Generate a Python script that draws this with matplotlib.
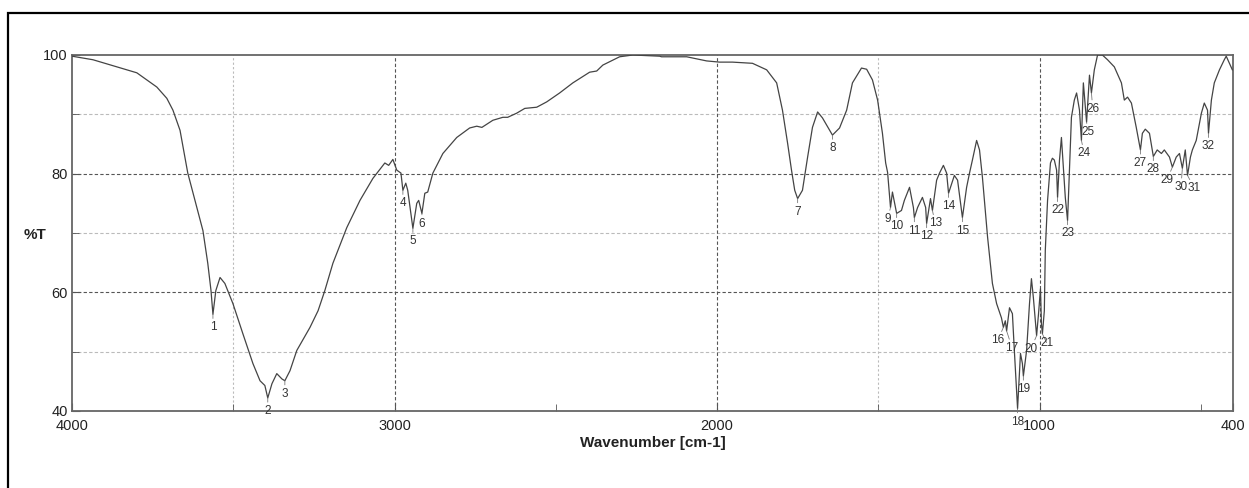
import numpy as np
import matplotlib.pyplot as plt
from matplotlib.patches import Rectangle

plt.rcParams['font.family'] = ['Liberation Sans', 'DejaVu Sans']

# Espectro IR: numero de onda (cm-1) y transmitancia (%T)
wavenumber = [4000, 3935, 3861, 3799, 3737, 3706, 3687, 3665, 3641, 3613, 3594, 3579,
              3569, 3563, 3554, 3541, 3526, 3501, 3470, 3439, 3417, 3402, 3393, 3380,
              3365, 3349, 3340, 3324, 3303, 3262, 3237, 3216, 3191, 3148, 3107, 3067,
              3030, 3018, 3005, 2993, 2980, 2974, 2965, 2959, 2943, 2931, 2925, 2915,
              2906, 2897, 2881, 2850, 2807, 2767, 2745, 2729, 2695, 2664, 2649, 2621,
              2596, 2559, 2528, 2488, 2447, 2395, 2373, 2354, 2302, 2261, 2178, 2172,
              2094, 2032, 1992, 1952, 1890, 1846, 1815, 1797, 1781, 1769, 1759, 1750,
              1735, 1719, 1704, 1688, 1673, 1642, 1620, 1598, 1580, 1552, 1536, 1518,
              1502, 1487, 1477, 1471, 1462, 1456, 1443, 1428, 1419, 1403, 1391, 1388,
              1378, 1363, 1353, 1350, 1338, 1332, 1319, 1310, 1298, 1288, 1282, 1264,
              1254, 1239, 1226, 1217, 1208, 1195, 1186, 1177, 1161, 1146, 1133, 1118,
              1112, 1106, 1102, 1093, 1084, 1078, 1068, 1059, 1053, 1050, 1040, 1031,
              1025, 1019, 1009, 1003, 997, 994, 991, 985, 982, 975, 966, 960, 954, 947,
              944, 938, 932, 926, 920, 913, 907, 901, 892, 885, 876, 870, 864, 858,
              854, 845, 839, 830, 820, 805, 789, 768, 746, 737, 727, 715, 700, 687,
              681, 672, 659, 647, 635, 622, 613, 597, 588, 576, 566, 557, 548, 541,
              532, 526, 514, 498, 489, 479, 476, 467, 458, 442, 427, 421, 411, 402]
transmittance = [99.8, 99.2, 98.0, 97.0, 94.6, 92.7, 90.7, 87.3, 80.1, 74.3, 70.4, 64.9,
                 60.3, 56.3, 60.3, 62.5, 61.5, 58.1, 53.0, 48.0, 45.1, 44.3, 42.2, 44.6,
                 46.3, 45.4, 45.1, 46.8, 50.2, 54.1, 56.9, 60.3, 64.9, 70.9, 75.5, 79.2,
                 81.8, 81.4, 82.4, 80.6, 80.1, 77.2, 78.4, 77.2, 70.8, 75.0, 75.5, 73.3,
                 76.7, 76.9, 80.1, 83.4, 86.1, 87.7, 88.0, 87.8, 89.0, 89.5, 89.5, 90.2,
                 91.0, 91.2, 92.1, 93.6, 95.3, 97.1, 97.3, 98.3, 99.7, 100.0, 99.8, 99.7,
                 99.7, 99.0, 98.8, 98.8, 98.6, 97.5, 95.3, 90.7, 85.1, 80.6, 77.2, 75.8,
                 77.2, 82.8, 87.8, 90.4, 89.4, 86.5, 87.7, 90.7, 95.3, 97.8, 97.6, 95.8,
                 92.4, 86.8, 81.8, 80.2, 74.3, 76.9, 73.3, 73.8, 75.5, 77.7, 74.3, 72.6,
                 74.3, 76.0, 74.3, 71.6, 75.8, 73.8, 78.9, 80.1, 81.4, 80.1, 76.7, 79.7,
                 78.9, 72.6, 77.7, 80.1, 82.3, 85.6, 84.0, 79.4, 69.3, 61.5, 58.1, 55.7,
                 54.1, 55.2, 53.5, 57.4, 56.4, 50.2, 40.4, 49.7, 48.0, 45.9, 50.2, 58.1,
                 62.3, 59.1, 52.7, 56.4, 60.6, 54.7, 53.0, 56.9, 67.1, 75.5, 81.8, 82.6, 82.3, 80.6,
                 76.0, 82.3, 86.1, 81.1, 76.0, 72.1, 80.6, 89.5, 92.4, 93.6, 90.7, 85.6, 95.3, 91.2,
                 88.7, 96.6, 93.6, 97.5, 100.0, 100.0, 99.2, 98.0, 95.3, 92.4, 92.9, 91.9, 87.8, 84.0,
                 86.8, 87.5, 86.8, 82.9, 84.0, 83.4, 84.0, 82.8, 81.1, 82.8, 83.4, 80.9, 84.0, 79.7,
                 82.8, 84.0, 85.6, 90.2, 91.9, 90.7, 86.8, 92.4, 95.3, 97.5, 99.2, 99.8, 98.6, 97.5]

# Picos marcados (numero y posicion en cm-1)
peak_ids = list(range(1, 33))
peak_wn = [3563, 3393, 3340, 2974, 2943, 2915, 1750, 1642, 1462, 1443, 1388, 1350,
           1332, 1282, 1239, 1112, 1102, 1068, 1050, 1009, 991, 944, 913, 870,
           854, 839, 687, 647, 588, 557, 541, 476]

# ajustes de etiquetas (puntos) para que no se monten
nudge = {6: (0, 2), 9: (-2, 1), 13: (2, 0),
         16: (-4, 0), 17: (4, -3),
         20: (-4, 0), 21: (3, 3),
         24: (2, 0), 25: (1, 2), 26: (1, -2),
         29: (-4, 0), 30: (-1, -4), 31: (5, 0)}

wn = np.array(wavenumber)
T = np.array(transmittance)

fig = plt.figure(figsize=(12.49, 4.88), dpi=100)
ax = fig.add_axes([72 / 1249, 1 - 411 / 488, (1233 - 72) / 1249, (411 - 55) / 488])

# marco de la hoja
fig.patches.append(Rectangle((8 / 1249, -0.05), 1.1, 1.05 - 13 / 488,
                             transform=fig.transFigure, fill=False,
                             edgecolor='black', linewidth=1.6))

ax.set_xlim(4000, 400)
ax.set_ylim(40, 100)

# rejilla
for v in [60, 80]:
    ax.axhline(v, color='#555555', lw=0.8, ls=(0, (3, 2)), zorder=1)
for v in [50, 70, 90]:
    ax.axhline(v, color='#bbbbbb', lw=0.8, ls=(0, (3, 2)), zorder=1)
for v in [3000, 2000, 1000]:
    ax.axvline(v, color='#555555', lw=0.8, ls=(0, (3, 2)), zorder=1)
for v in [3500, 1500]:
    ax.axvline(v, color='#bbbbbb', lw=0.8, ls=(0, (2, 2)), zorder=1)

ax.plot(wn, T, color='#444444', lw=0.9, zorder=3)

order = np.argsort(wn)
for pid, pw in zip(peak_ids, peak_wn):
    pt = np.interp(pw, wn[order], T[order])
    dx, dy = nudge.get(pid, (0, 0))
    ax.annotate(str(pid), xy=(pw, pt), xytext=(dx, -5 + dy),
                textcoords='offset points', ha='center', va='top',
                fontsize=8.5, color='#333333', annotation_clip=False,
                arrowprops=dict(arrowstyle='-', color='#777777', lw=0.6,
                                shrinkA=0, shrinkB=0))

ax.set_xticks([4000, 3000, 2000, 1000, 400])
ax.set_xticklabels(['4000', '3000', '2000', '1000', '400'])
ax.set_xticks([3500, 2500, 1500, 500], minor=True)
ax.set_yticks([40, 60, 80, 100])
ax.set_yticks([50, 70, 90], minor=True)
ax.tick_params(axis='both', which='both', direction='in', color='#555555',
               labelsize=10.5, labelcolor='#222222')
ax.tick_params(axis='x', which='major', length=6, pad=6)
ax.tick_params(axis='x', which='minor', length=5)
ax.tick_params(axis='y', which='major', length=6, pad=3)
ax.tick_params(axis='y', which='minor', length=5)

for s in ax.spines.values():
    s.set_color('#666666')
    s.set_linewidth(1.3)

ax.set_xlabel('Wavenumber [cm-1]', fontsize=11, fontweight='bold', color='#222222', labelpad=2)
fig.text(24 / 1249, 1 - 235 / 488, '%T', fontsize=11, fontweight='bold',
         color='#222222', ha='left', va='center')

fig.savefig('out.png', dpi=100)
